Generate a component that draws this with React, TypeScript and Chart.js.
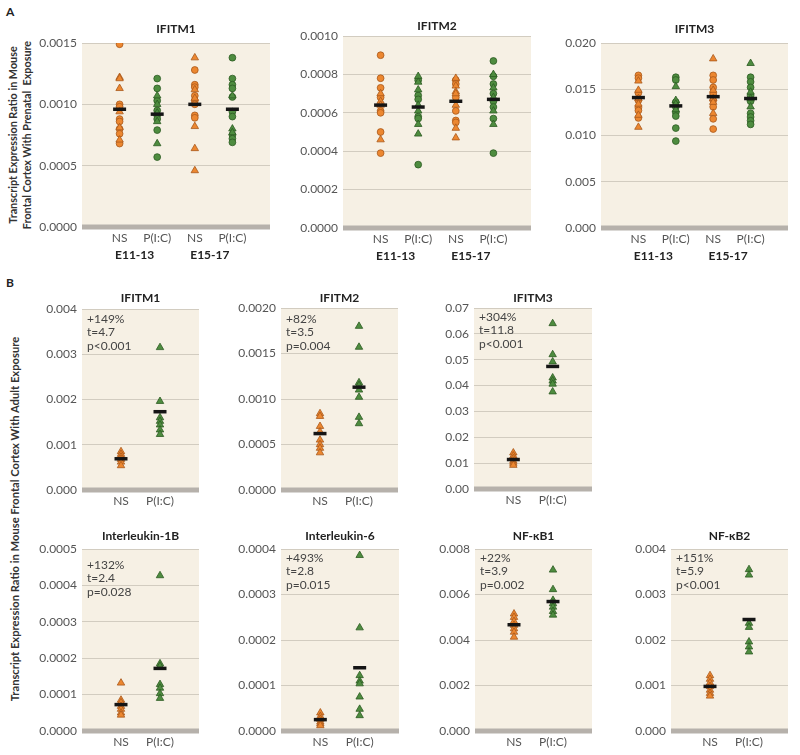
import React, { useEffect, useRef } from "react";
import { Chart, registerables } from "chart.js";

Chart.register(...registerables);

// ---------- categories / labels ----------
const A_CATS = ["NS", "P(I:C)", "NS", "P(I:C)"];
const A_GROUPS = ["E11-13", "E15-17"];
const B_CATS = ["NS", "P(I:C)"];

// ---------- Panel A: prenatal exposure ----------
// order of inner arrays: NS E11-13, P(I:C) E11-13, NS E15-17, P(I:C) E15-17
const A1_CIRCLES = [
  [0.00149, 0.001, 0.00098, 0.00088, 0.00086, 0.0008, 0.00076, 0.00068],
  [0.00121, 0.00113, 0.00103, 0.00095, 0.00091, 0.00088, 0.00079, 0.00057],
  [0.00128, 0.00116, 0.00114, 0.00107, 0.00103, 0.001, 0.00091, 0.00089],
  [0.00138, 0.00121, 0.00116, 0.00113, 0.00106, 0.00094, 0.0009, 0.00075, 0.00072, 0.00069],
];
const A1_TRIANGLES = [
  [0.00122, 0.00121, 0.00113, 0.00094, 0.00081, 0.00071],
  [0.00107, 0.001, 0.00093, 0.00086, 0.00068],
  [0.00138, 0.00112, 0.00105, 0.00082, 0.00064, 0.00046],
  [0.00107, 0.0008, 0.00077],
];
const A1_MEANS = [0.00096, 0.00092, 0.001, 0.00096];

const A2_CIRCLES = [
  [0.0009, 0.00078, 0.00073, 0.00068, 0.00061, 0.0006, 0.0005, 0.00039],
  [0.00077, 0.00069, 0.00067, 0.00058, 0.00057, 0.00033],
  [0.00077, 0.00075, 0.00068, 0.00061, 0.00056, 0.00055],
  [0.00087, 0.00079, 0.00075, 0.0007, 0.00066, 0.00063, 0.00057, 0.00039],
];
const A2_TRIANGLES = [
  [0.0007, 0.00066, 0.00064, 0.00046],
  [0.00079, 0.00076, 0.00072, 0.00064, 0.00061, 0.00054, 0.00049],
  [0.00078, 0.00074, 0.00071, 0.0007, 0.00064, 0.00052, 0.00047],
  [0.0008, 0.00073, 0.00068, 0.00061, 0.00054],
];
const A2_MEANS = [0.00064, 0.00063, 0.00066, 0.00067];

const A3_CIRCLES = [
  [0.0165, 0.0162, 0.0146, 0.0138, 0.013, 0.0127, 0.0119],
  [0.0163, 0.016, 0.0136, 0.0131, 0.0125, 0.0121, 0.0108, 0.0094],
  [0.0165, 0.016, 0.0152, 0.0145, 0.0138, 0.0131, 0.0118, 0.0107],
  [0.0163, 0.0158, 0.0152, 0.0143, 0.0137, 0.0124, 0.012, 0.0116, 0.0112],
];
const A3_TRIANGLES = [
  [0.0159, 0.0149, 0.014, 0.0134, 0.0122, 0.0109],
  [0.0153, 0.0138, 0.0134, 0.0128],
  [0.0183, 0.0149, 0.014, 0.0136, 0.0124],
  [0.0178, 0.0147, 0.014, 0.0131],
];
const A3_MEANS = [0.0141, 0.0132, 0.0142, 0.014];

// ---------- Panel B: adult exposure ----------
const B1_NS = [0.00085, 0.00079, 0.00073, 0.00068, 0.00062, 0.00054];
const B1_PIC = [0.00315, 0.00196, 0.0016, 0.00152, 0.00144, 0.00133, 0.00123];
const B1_MEANS = [0.00069, 0.00173];
const B1_STATS = ["+149%", "t=4.7", "p<0.001"];

const B2_NS = [0.00084, 0.00081, 0.0007, 0.00064, 0.00055, 0.0005, 0.00046, 0.00041];
const B2_PIC = [0.0018, 0.00157, 0.00118, 0.00115, 0.0011, 0.00102, 0.0008, 0.00073];
const B2_MEANS = [0.00062, 0.00113];
const B2_STATS = ["+82%", "t=3.5", "p=0.004"];

const B3_NS = [0.014, 0.0128, 0.0118, 0.0108, 0.01, 0.0092];
const B3_PIC = [0.064, 0.052, 0.0492, 0.043, 0.0418, 0.0406, 0.0376];
const B3_MEANS = [0.0114, 0.0474];
const B3_STATS = ["+304%", "t=11.8", "p<0.001"];

const B4_NS = [0.000132, 0.000085, 0.000078, 0.000068, 0.00006, 0.00005, 0.000044];
const B4_PIC = [0.000427, 0.000185, 0.000178, 0.000128, 0.000118, 0.000103, 0.00009];
const B4_MEANS = [0.0000725, 0.000172];
const B4_STATS = ["+132%", "t=2.4", "p=0.028"];

const B5_NS = [0.00004, 0.000032, 0.000026, 0.00002, 0.000016, 0.000012];
const B5_PIC = [0.000386, 0.000227, 0.000122, 0.00011, 0.000104, 0.000075, 0.000048, 0.000034];
const B5_MEANS = [0.000025, 0.000139];
const B5_STATS = ["+493%", "t=2.8", "p=0.015"];

const B6_NS = [0.00515, 0.005, 0.00482, 0.00465, 0.0045, 0.00435, 0.00413];
const B6_PIC = [0.00708, 0.00622, 0.00575, 0.0056, 0.00545, 0.00526, 0.0051];
const B6_MEANS = [0.00467, 0.00569];
const B6_STATS = ["+22%", "t=3.9", "p=0.002"];

const B7_NS = [0.00122, 0.00114, 0.00106, 0.00098, 0.0009, 0.00083, 0.00077];
const B7_PIC = [0.00355, 0.00343, 0.00237, 0.00228, 0.00196, 0.00185, 0.00174];
const B7_MEANS = [0.00098, 0.00245];
const B7_STATS = ["+151%", "t=5.9", "p<0.001"];

// ---------- styles ----------
const FONT = "Lato, 'Open Sans', 'DejaVu Sans', sans-serif";
const BG = "#F6F0E4";
const GRID = "#D2CCC0";
const BAR = "#B6B1AB";
const ORANGE = "#EC8730";
const ORANGE_EDGE = "#A8581A";
const GREEN = "#4E8C3F";
const GREEN_EDGE = "#2C5A22";
const TICK = "#555555";
const DARK = "#222222";

const YW = 70; // y-axis area width
const TH = 30; // top area
const XH = 45; // x-axis area
const RP = 6; // right pad

type Panel = {
  title: string;
  box: [number, number, number, number]; // plot left, top, right, bottom
  yMax: number;
  yStep: number;
  dec: number;
  cats: string[];
  groups?: string[];
  circles: number[][];
  triangles: number[][];
  means: number[];
  stats?: string[];
  titleOff: number;
  statsOff?: number;
  xMin: number;
  xMax: number;
};

const PANELS: Panel[] = [
  { title: "IFITM1", box: [82, 43, 274, 227], yMax: 0.0015, yStep: 0.0005, dec: 4, cats: A_CATS, groups: A_GROUPS, circles: A1_CIRCLES, triangles: A1_TRIANGLES, means: A1_MEANS, titleOff: 14, xMin: -1, xMax: 4 },
  { title: "IFITM2", box: [343, 36, 535, 228], yMax: 0.001, yStep: 0.0002, dec: 4, cats: A_CATS, groups: A_GROUPS, circles: A2_CIRCLES, triangles: A2_TRIANGLES, means: A2_MEANS, titleOff: 10, xMin: -1, xMax: 4 },
  { title: "IFITM3", box: [601, 43, 792, 228], yMax: 0.02, yStep: 0.005, dec: 3, cats: A_CATS, groups: A_GROUPS, circles: A3_CIRCLES, triangles: A3_TRIANGLES, means: A3_MEANS, titleOff: 14, xMin: -1, xMax: 4 },
  { title: "IFITM1", box: [82, 309, 203, 490], yMax: 0.004, yStep: 0.001, dec: 3, cats: B_CATS, circles: [[], []], triangles: [B1_NS, B1_PIC], means: B1_MEANS, stats: B1_STATS, titleOff: 11, statsOff: 10, xMin: -1, xMax: 2 },
  { title: "IFITM2", box: [281, 308, 402, 490], yMax: 0.002, yStep: 0.0005, dec: 4, cats: B_CATS, circles: [[], []], triangles: [B2_NS, B2_PIC], means: B2_MEANS, stats: B2_STATS, titleOff: 10, statsOff: 11, xMin: -1, xMax: 2 },
  { title: "IFITM3", box: [474, 308, 596, 489], yMax: 0.07, yStep: 0.01, dec: 2, cats: B_CATS, circles: [[], []], triangles: [B3_NS, B3_PIC], means: B3_MEANS, stats: B3_STATS, titleOff: 10, statsOff: 9, xMin: -1, xMax: 2 },
  { title: "Interleukin-1B", box: [82, 549, 203, 731], yMax: 0.0005, yStep: 0.0001, dec: 4, cats: B_CATS, circles: [[], []], triangles: [B4_NS, B4_PIC], means: B4_MEANS, stats: B4_STATS, titleOff: 13, statsOff: 16, xMin: -1, xMax: 2 },
  { title: "Interleukin-6", box: [281, 549, 403, 731], yMax: 0.0004, yStep: 0.0001, dec: 4, cats: B_CATS, circles: [[], []], triangles: [B5_NS, B5_PIC], means: B5_MEANS, stats: B5_STATS, titleOff: 13, statsOff: 9, xMin: -1, xMax: 2 },
  { title: "NF-\u03BAB1", box: [475, 549, 596, 731], yMax: 0.008, yStep: 0.002, dec: 3, cats: B_CATS, circles: [[], []], triangles: [B6_NS, B6_PIC], means: B6_MEANS, stats: B6_STATS, titleOff: 13, statsOff: 9, xMin: -1, xMax: 2 },
  { title: "NF-\u03BAB2", box: [671, 549, 792, 731], yMax: 0.004, yStep: 0.001, dec: 3, cats: B_CATS, circles: [[], []], triangles: [B7_NS, B7_PIC], means: B7_MEANS, stats: B7_STATS, titleOff: 13, statsOff: 9, xMin: -1, xMax: 2 },
];

function points(arrs: number[][], even: boolean) {
  const out: { x: number; y: number }[] = [];
  arrs.forEach((arr, i) => {
    if ((i % 2 === 0) === even) arr.forEach((y) => out.push({ x: i, y }));
  });
  return out;
}

function makePlugin(p: Panel) {
  return {
    id: "deco",
    beforeDraw(chart: any) {
      const { ctx, chartArea } = chart;
      const { left, top, right, bottom } = chartArea;
      ctx.save();
      ctx.fillStyle = BG;
      ctx.fillRect(left, top, right - left, bottom - top);
      ctx.restore();
    },
    beforeDatasetsDraw(chart: any) {
      const { ctx, chartArea } = chart;
      const { left, right, bottom } = chartArea;
      ctx.save();
      ctx.fillStyle = BAR;
      ctx.fillRect(left, bottom - 2.5, right - left, 5);
      ctx.restore();
    },
    afterDraw(chart: any) {
      const { ctx, chartArea } = chart;
      const { left, top, right, bottom } = chartArea;
      ctx.save();
      ctx.fillStyle = DARK;
      ctx.font = `bold 12px ${FONT}`;
      ctx.textAlign = "center";
      ctx.textBaseline = "middle";
      ctx.fillText(p.title, (left + right) / 2, top - p.titleOff);
      if (p.groups) {
        const xs = chart.scales.x;
        p.groups.forEach((g, k) => {
          ctx.fillText(g, xs.getPixelForValue(k * 2 + 0.4), bottom + 28);
        });
      }
      if (p.stats) {
        ctx.font = `12px ${FONT}`;
        ctx.fillStyle = "#444444";
        ctx.textAlign = "left";
        p.stats.forEach((s, k) => {
          ctx.fillText(s, left + 5, top + (p.statsOff || 10) + k * 13.5);
        });
      }
      ctx.restore();
    },
  };
}

function PanelChart({ p }: { p: Panel }) {
  const ref = useRef<HTMLCanvasElement | null>(null);
  const [l, t, r, b] = p.box;
  const w = r - l + YW + RP;
  const h = b - t + TH + XH;
  useEffect(() => {
    if (!ref.current) return;
    const nTicks = Math.round(p.yMax / p.yStep);
    const chart = new Chart(ref.current, {
      type: "scatter",
      data: {
        datasets: [
          {
            label: "mean",
            data: p.means.map((y, i) => ({ x: i, y })),
            pointStyle: "line",
            pointRadius: 6.5,
            pointBorderWidth: 3.5,
            pointBorderColor: "#151515",
            pointBackgroundColor: "#151515",
          },
          {
            label: "NS triangles",
            data: points(p.triangles, true),
            pointStyle: "triangle",
            pointRadius: 4.3,
            pointBorderWidth: 0.8,
            pointBackgroundColor: ORANGE,
            pointBorderColor: ORANGE_EDGE,
          },
          {
            label: "P triangles",
            data: points(p.triangles, false),
            pointStyle: "triangle",
            pointRadius: 4.3,
            pointBorderWidth: 0.8,
            pointBackgroundColor: GREEN,
            pointBorderColor: GREEN_EDGE,
          },
          {
            label: "NS circles",
            data: points(p.circles, true),
            pointStyle: "circle",
            pointRadius: 3.4,
            pointBorderWidth: 0.8,
            pointBackgroundColor: ORANGE,
            pointBorderColor: ORANGE_EDGE,
          },
          {
            label: "P circles",
            data: points(p.circles, false),
            pointStyle: "circle",
            pointRadius: 3.4,
            pointBorderWidth: 0.8,
            pointBackgroundColor: GREEN,
            pointBorderColor: GREEN_EDGE,
          },
        ] as any,
      },
      options: {
        animation: false,
        responsive: false,
        devicePixelRatio: 1,
        events: [],
        layout: { padding: { top: TH, left: 0, right: RP, bottom: 0 } },
        plugins: { legend: { display: false }, tooltip: { enabled: false }, title: { display: false } },
        scales: {
          x: {
            type: "linear",
            min: p.xMin,
            max: p.xMax,
            grid: { display: false, drawTicks: false, tickLength: 0 },
            border: { display: false },
            ticks: {
              padding: 4,
              color: TICK,
              font: { size: 12, family: FONT },
              autoSkip: false,
              maxRotation: 0,
              callback: (v: any) => p.cats[Math.round(Number(v))] ?? "",
            },
            afterBuildTicks: (s: any) => {
              s.ticks = p.cats.map((_, i) => ({ value: i }));
            },
            afterFit: (s: any) => {
              s.height = XH;
            },
          },
          y: {
            type: "linear",
            min: 0,
            max: p.yMax,
            grid: {
              color: GRID,
              drawTicks: false,
              tickLength: 0,
              lineWidth: 1,
            },
            border: { display: false },
            ticks: {
              padding: 5,
              color: TICK,
              font: { size: 12, family: FONT },
              callback: (v: any) => Number(v).toFixed(p.dec),
            },
            afterBuildTicks: (s: any) => {
              const arr = [];
              for (let i = 0; i <= nTicks; i++) arr.push({ value: i * p.yStep });
              s.ticks = arr;
            },
            afterFit: (s: any) => {
              s.width = YW;
            },
          },
        } as any,
      },
      plugins: [makePlugin(p)],
    });
    return () => chart.destroy();
  }, [p]);
  return (
    <canvas
      ref={ref}
      width={w}
      height={h}
      style={{ position: "absolute", left: l - YW, top: t - TH, width: w, height: h }}
    />
  );
}

export default function App() {
  const titleStyle: React.CSSProperties = {
    position: "absolute",
    transform: "translate(-50%, -50%) rotate(-90deg)",
    whiteSpace: "nowrap",
    textAlign: "center",
    fontFamily: FONT,
    fontWeight: 700,
    lineHeight: "14px",
    color: "#333",
  };
  return (
    <div
      style={{
        position: "absolute",
        left: 0,
        top: 0,
        width: 800,
        height: 755,
        background: "#ffffff",
        overflow: "hidden",
        fontFamily: FONT,
      }}
    >
      <div style={{ position: "absolute", left: 6, top: 4, fontWeight: 700, fontSize: 12, color: "#222" }}>A</div>
      <div style={{ position: "absolute", left: 6, top: 275, fontWeight: 700, fontSize: 12, color: "#222" }}>B</div>
      <div style={{ ...titleStyle, fontSize: 10.8, left: 20, top: 135 }}>
        Transcript Expression Ratio in Mouse
        <br />
        Frontal Cortex With Prenatal&nbsp; Exposure
      </div>
      <div style={{ ...titleStyle, fontSize: 11.2, left: 15, top: 519 }}>
        Transcript Expression Ratio in Mouse Frontal Cortex With Adult Exposure
      </div>
      {PANELS.map((p, i) => (
        <PanelChart key={i} p={p} />
      ))}
    </div>
  );
}
